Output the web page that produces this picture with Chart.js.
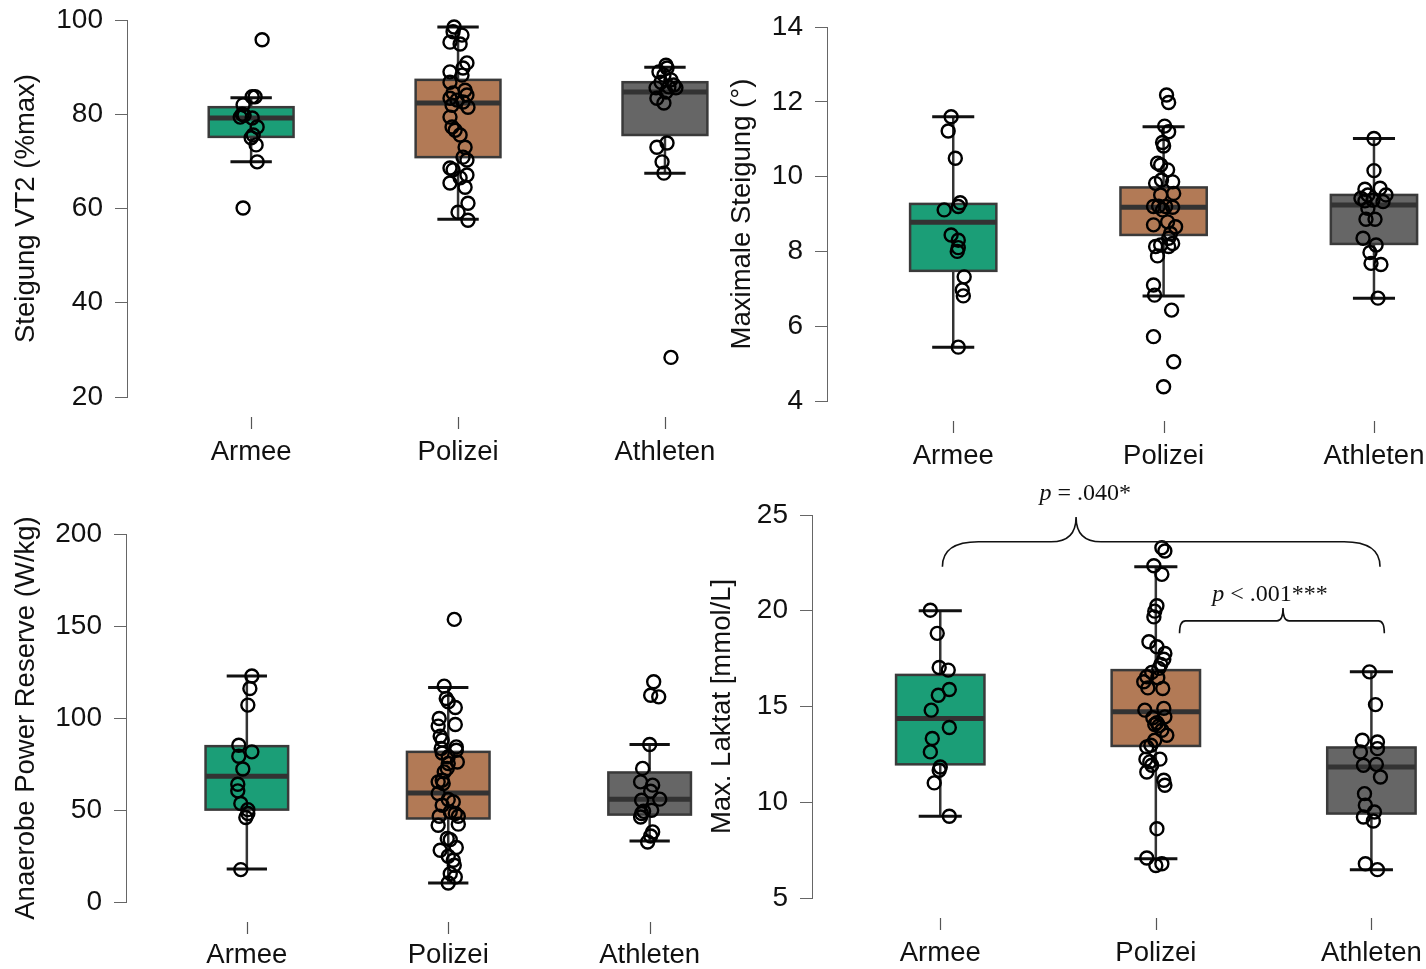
<!DOCTYPE html>
<html>
<head>
<meta charset="utf-8">
<script src="https://cdn.jsdelivr.net/npm/chart.js@4.4.0/dist/chart.umd.min.js"></script>
<style>
  body { margin: 0; background: #fff; width: 1426px; height: 969px; overflow: hidden; position: relative; }
  canvas { position: absolute; }
</style>
</head>
<body>
<canvas id="vt2" width="720" height="480" style="left:0;top:0"></canvas>
<canvas id="steigung" width="706" height="480" style="left:720px;top:0"></canvas>
<canvas id="apr" width="720" height="489" style="left:0;top:480px"></canvas>
<canvas id="laktat" width="726" height="499" style="left:700px;top:470px"></canvas>
<script>
const groups = ['Armee', 'Polizei', 'Athleten'];

// --- Steigung VT2 (%max) ---
const vt2Armee = [95.8, 83.7, 83.7, 82.0, 80.0, 79.4, 79.8, 79.2, 77.3, 75.6, 75.0, 73.5, 69.9, 60.1];
const vt2ArmeeJit = [0.053, 0.005, 0.019, -0.039, -0.043, -0.053, -0.034, 0.005, 0.029, 0.010, 0, 0.024, 0.029, -0.039];
const vt2Polizei = [98.5, 97.5, 96.8, 95.3, 94.9, 90.9, 89.8, 89.0, 88.3, 86.8, 85.1, 84.5, 84.1, 83.4, 83.0, 82.6, 81.9, 81.5, 79.4, 77.3, 76.6, 75.6, 73.0, 70.9, 70.3, 68.6, 68.2, 67.1, 66.5, 65.4, 64.5, 61.1, 59.2, 57.5];
const vt2PolizeiJit = [-0.019, -0.024, 0.019, -0.039, 0.010, 0.043, 0.024, -0.039, 0.019, -0.039, 0.034, -0.024, 0.043, -0.039, -0.005, 0.024, -0.029, 0.048, -0.039, -0.029, -0.014, 0.010, 0.034, 0.024, 0.043, -0.039, -0.024, 0.043, 0.010, -0.039, 0.034, 0.048, 0, 0.048];
const vt2Athleten = [90.4, 89.8, 89.0, 88.3, 87.3, 86.8, 86.2, 85.8, 85.6, 85.6, 84.7, 83.4, 82.4, 73.9, 73.0, 69.9, 67.5, 28.4];
const vt2AthletenJit = [0.005, 0.010, -0.029, -0.005, 0.029, -0.019, 0.043, 0.019, -0.043, 0.053, 0.005, -0.039, -0.005, 0.010, -0.039, -0.014, -0.005, 0.029];
// [lower whisker, Q1, median, Q3, upper whisker]
const vt2Stats = [[69.9, 75.2, 79.2, 81.5, 83.5], [57.7, 70.9, 82.4, 87.3, 98.5], [67.5, 75.6, 84.7, 86.8, 90.0]];

// --- Maximale Steigung (°) ---
const maxArmee = [11.6, 11.22, 10.49, 9.30, 9.20, 9.11, 8.44, 8.30, 8.10, 8.00, 7.32, 6.97, 6.81, 5.44];
const maxArmeeJit = [-0.010, -0.024, 0.010, 0.033, 0.024, -0.043, -0.010, 0.024, 0.024, 0.019, 0.052, 0.043, 0.048, 0.024];
const maxPolizei = [12.18, 11.98, 11.35, 11.20, 10.91, 10.82, 10.36, 10.31, 10.18, 9.91, 9.86, 9.82, 9.55, 9.51, 9.21, 9.20, 9.20, 9.18, 9.11, 8.79, 8.71, 8.66, 8.48, 8.35, 8.21, 8.17, 8.13, 8.13, 7.88, 7.10, 6.83, 6.43, 5.72, 5.05, 4.38];
const maxPolizeiJit = [0.014, 0.024, 0.005, 0.024, -0.005, 0, -0.029, -0.014, 0.019, -0.010, 0.043, -0.038, 0.048, -0.014, -0.024, -0.048, 0.010, 0.043, -0.005, 0.019, -0.048, 0.057, 0.033, 0.024, 0.043, -0.014, -0.038, 0.024, -0.029, -0.048, -0.043, 0.038, -0.048, 0.048, 0];
const maxAthleten = [11.02, 10.16, 9.69, 9.66, 9.51, 9.51, 9.42, 9.37, 9.35, 9.33, 9.15, 8.86, 8.86, 8.35, 8.17, 7.97, 7.68, 7.65, 6.75];
const maxAthletenJit = [0, 0, 0.029, -0.043, 0.057, -0.029, -0.062, -0.005, -0.043, 0.043, -0.029, -0.038, 0.005, -0.052, 0.010, -0.019, -0.014, 0.033, 0.019];
const maxStats = [[5.44, 7.48, 8.78, 9.27, 11.6], [6.81, 8.44, 9.18, 9.71, 11.33], [6.75, 8.20, 9.24, 9.51, 11.02]];

// --- Anaerobe Power Reserve (W/kg) ---
const aprArmee = [122.8, 116, 107, 85.2, 81.6, 79.2, 72.3, 64.0, 60.4, 53.5, 50.2, 48.1, 45.9, 17.6];
const aprArmeeJit = [0.025, 0.015, 0.005, -0.040, 0.025, -0.040, -0.020, -0.045, -0.045, -0.030, 0.005, 0.005, -0.005, -0.030];
const aprPolizei = [153.6, 117.3, 110.6, 108.8, 105.7, 99.7, 96.5, 95.6, 90.1, 88.0, 84.3, 83.4, 82.5, 81.0, 78.9, 76.1, 75.3, 72.6, 70.7, 66.2, 65.3, 64.4, 59.0, 55.7, 54.4, 52.6, 49.0, 48.1, 46.6, 46.6, 42.3, 41.7, 34.5, 33.9, 29.6, 28.1, 24.9, 22.7, 20.0, 15.4, 13.6, 10.3];
const aprPolizeiJit = [0.030, -0.020, -0.010, 0, 0.035, -0.045, 0.035, -0.050, -0.040, -0.030, 0.040, -0.035, 0.040, -0.030, 0, 0.045, 0, -0.005, -0.020, -0.030, -0.050, -0.025, -0.050, 0, 0.025, -0.030, 0.010, 0.035, -0.045, 0.050, 0.050, -0.050, -0.005, 0.010, 0.040, -0.040, 0, 0.025, 0.030, 0.010, 0.035, 0];
const aprAthleten = [119.7, 112.4, 111.5, 85.6, 72.6, 65.3, 63.5, 60.2, 55.9, 55.3, 49.9, 49.3, 48.1, 46.2, 38.1, 35.9, 32.6];
const aprAthletenJit = [0.020, 0.005, 0.045, 0, -0.035, -0.045, 0.015, 0.005, 0.050, -0.040, 0.010, -0.030, -0.040, -0.045, 0.015, 0.005, -0.010];
const aprStats = [[18.0, 50.2, 68.4, 84.7, 122.8], [10.3, 45.4, 59.3, 81.6, 116.6], [33.2, 47.5, 55.9, 70.4, 85.6]];

// --- Max. Laktat [mmol/L] ---
const lakArmee = [20.03, 18.82, 17.04, 16.90, 15.89, 15.59, 14.81, 13.90, 13.33, 12.63, 11.84, 11.67, 11.01, 9.27];
const lakArmeeJit = [-0.046, -0.014, -0.005, 0.037, 0.042, -0.009, -0.042, 0.042, -0.037, -0.046, 0, -0.005, -0.028, 0.042];
const lakPolizei = [23.29, 23.12, 22.35, 21.90, 20.26, 19.98, 19.68, 18.38, 18.12, 17.77, 17.47, 17.19, 16.99, 16.78, 16.55, 16.50, 16.29, 15.97, 15.94, 14.90, 14.81, 14.46, 14.41, 14.16, 14.06, 13.99, 13.76, 13.50, 13.24, 12.98, 12.89, 12.25, 12.25, 12.11, 11.93, 11.58, 11.15, 10.89, 8.62, 7.09, 6.79, 6.70];
const lakPolizeiJit = [0.028, 0.042, -0.009, 0.028, 0.005, -0.005, -0.009, -0.032, 0.005, 0.042, 0.037, 0.023, 0.014, -0.019, -0.042, 0.009, -0.056, -0.037, 0.032, 0.037, -0.051, 0.042, -0.014, 0.005, -0.005, 0.014, 0.028, 0.051, -0.005, -0.023, -0.042, -0.046, 0.019, -0.028, -0.019, -0.042, 0.037, 0.042, 0.005, -0.042, 0.028, 0];
const lakAthleten = [16.81, 15.10, 13.24, 13.15, 12.80, 12.63, 11.98, 11.93, 11.32, 10.45, 9.84, 9.49, 9.23, 9.02, 6.79, 6.48];
const lakAthletenJit = [-0.009, 0.019, -0.042, 0.028, 0.028, -0.051, 0.023, -0.037, 0.042, -0.032, -0.028, 0.014, -0.037, 0.009, -0.028, 0.028];
const lakStats = [[9.27, 11.98, 14.37, 16.65, 20.0], [7.05, 12.94, 14.72, 16.90, 22.30], [6.48, 9.41, 11.84, 12.86, 16.81]];

// significance brackets on the lactate panel
const sigFrom = [1.01, 2.11];
const sigTo = [3.04, 3.06];
const sigPeak = [1.63, 2.59];
const sigLine = [23.6, 19.47];
const sigEnd = [22.3, 18.83];
const sigTip = [24.9, 20.14];
const sigText = [' = .040*', ' < .001***'];
const sigTextX = [1.673, 2.53];
const sigTextY = [26.1, 20.82];

const fillColors = ['#1b9e77', '#b27a56', '#666666'];
const SANS = "'Liberation Sans', Arial, sans-serif";
const BOX_HALF = 0.205;
const CAP_HALF = 0.1;

function boxPlugin(stats) {
  return {
    id: 'boxes',
    beforeDatasetsDraw(chart) {
      const { ctx, scales: { x, y } } = chart;
      ctx.save();
      stats.forEach((s, i) => {
        const cx = x.getPixelForValue(i + 1);
        const half = x.getPixelForValue(i + 1 + BOX_HALF) - cx;
        const cap = x.getPixelForValue(i + 1 + CAP_HALF) - cx;
        const [lo, q1, med, q3, hi] = s.map(v => y.getPixelForValue(v));
        // whisker line
        ctx.strokeStyle = '#333';
        ctx.lineWidth = 2.5;
        ctx.beginPath();
        ctx.moveTo(cx, lo);
        ctx.lineTo(cx, hi);
        ctx.stroke();
        // whisker caps
        ctx.strokeStyle = '#111';
        ctx.lineWidth = 3;
        ctx.beginPath();
        ctx.moveTo(cx - cap, lo); ctx.lineTo(cx + cap, lo);
        ctx.moveTo(cx - cap, hi); ctx.lineTo(cx + cap, hi);
        ctx.stroke();
        // box
        ctx.fillStyle = fillColors[i];
        ctx.fillRect(cx - half, q3, 2 * half, q1 - q3);
        ctx.strokeStyle = '#3a3a3a';
        ctx.lineWidth = 2.5;
        ctx.strokeRect(cx - half, q3, 2 * half, q1 - q3);
        // median
        ctx.strokeStyle = '#333';
        ctx.lineWidth = 5;
        ctx.beginPath();
        ctx.moveTo(cx - half, med);
        ctx.lineTo(cx + half, med);
        ctx.stroke();
      });
      ctx.restore();
    },
    afterDraw(chart) {
      // short category ticks set below the plot region
      const { ctx, scales: { x }, chartArea } = chart;
      ctx.save();
      ctx.strokeStyle = '#555';
      ctx.lineWidth = 1.2;
      groups.forEach((g, i) => {
        const px = Math.round(x.getPixelForValue(i + 1)) + 0.5;
        ctx.beginPath();
        ctx.moveTo(px, chartArea.bottom + 20);
        ctx.lineTo(px, chartArea.bottom + 32);
        ctx.stroke();
      });
      ctx.restore();
    }
  };
}

const bracketPlugin = {
  id: 'brackets',
  afterDraw(chart) {
    const { ctx, scales: { x, y } } = chart;
    const corner = [36, 6];
    const cusp = [25, 6];
    ctx.save();
    ctx.strokeStyle = '#111';
    ctx.lineWidth = 1.6;
    sigFrom.forEach((f, i) => {
      const x1 = x.getPixelForValue(f), x2 = x.getPixelForValue(sigTo[i]);
      const xp = x.getPixelForValue(sigPeak[i]);
      const yh = y.getPixelForValue(sigLine[i]);
      const ye = y.getPixelForValue(sigEnd[i]);
      const yt = y.getPixelForValue(sigTip[i]);
      const r = corner[i], c = cusp[i];
      ctx.beginPath();
      ctx.moveTo(x1, ye);
      ctx.quadraticCurveTo(x1, yh, x1 + r, yh);
      ctx.lineTo(xp - c, yh);
      ctx.quadraticCurveTo(xp, yh, xp, yt);
      ctx.quadraticCurveTo(xp, yh, xp + c, yh);
      ctx.lineTo(x2 - r, yh);
      ctx.quadraticCurveTo(x2, yh, x2, ye);
      ctx.stroke();

      // "p" in italics, the rest upright
      const italic = "italic 24px 'Liberation Serif', 'Times New Roman', serif";
      const upright = "24px 'Liberation Serif', 'Times New Roman', serif";
      ctx.font = italic;
      const wp = ctx.measureText('p').width;
      ctx.font = upright;
      const wr = ctx.measureText(sigText[i]).width;
      const cx = x.getPixelForValue(sigTextX[i]);
      const cy = y.getPixelForValue(sigTextY[i]);
      const left = cx - (wp + wr) / 2;
      ctx.fillStyle = '#111';
      ctx.textBaseline = 'middle';
      ctx.textAlign = 'left';
      ctx.font = italic;
      ctx.fillText('p', left, cy);
      ctx.font = upright;
      ctx.fillText(sigText[i], left + wp, cy);
    });
    ctx.restore();
  }
};

function makePanel(id, cfg) {
  const datasets = cfg.values.map((vals, g) => ({
    data: vals.map((v, k) => ({ x: g + 1 + cfg.jitter[g][k], y: v })),
    pointRadius: 6.5,
    pointHoverRadius: 6.5,
    pointBorderWidth: 2.4,
    pointBorderColor: '#000',
    pointBackgroundColor: 'rgba(0,0,0,0)',
    clip: false
  }));
  const plugins = [boxPlugin(cfg.stats)];
  if (cfg.extra) plugins.push(cfg.extra);

  return new Chart(document.getElementById(id), {
    type: 'scatter',
    data: { datasets },
    options: {
      responsive: false,
      animation: false,
      layout: { padding: { top: cfg.padTop, right: cfg.padRight, left: 0, bottom: 0 } },
      plugins: { legend: { display: false }, tooltip: { enabled: false } },
      scales: {
        x: {
          type: 'linear',
          min: cfg.xMin,
          max: cfg.xMax,
          afterBuildTicks: s => { s.ticks = groups.map((g, i) => ({ value: i + 1 })); },
          afterFit: s => { s.height = cfg.xHeight; s.paddingLeft = 0; s.paddingRight = 0; },
          ticks: {
            callback: (v, i) => groups[i],
            font: { family: SANS, size: 27.5 },
            color: '#111',
            padding: cfg.labelPad,
            maxRotation: 0,
            autoSkip: false
          },
          grid: { display: false, drawTicks: false },
          border: { display: false }
        },
        y: {
          min: cfg.yMin,
          max: cfg.yMax,
          afterFit: s => { s.width = cfg.yWidth; s.paddingTop = 0; s.paddingBottom = 0; },
          ticks: {
            stepSize: cfg.step,
            font: { family: SANS, size: 28 },
            color: '#111',
            padding: 12
          },
          grid: { drawOnChartArea: false, drawTicks: true, tickLength: 12, color: '#666', lineWidth: 1 },
          border: { display: true, color: '#666', width: 1 },
          title: {
            display: true,
            text: cfg.title,
            font: { family: SANS, size: 27.5 },
            color: '#111',
            padding: { top: cfg.titlePad, bottom: 0 }
          }
        }
      }
    },
    plugins
  });
}

makePanel('vt2', {
  title: 'Steigung VT2 (%max)',
  values: [vt2Armee, vt2Polizei, vt2Athleten],
  jitter: [vt2ArmeeJit, vt2PolizeiJit, vt2AthletenJit],
  stats: vt2Stats,
  yMin: 20, yMax: 100, step: 20,
  xMin: 0.4, xMax: 3.223,
  yWidth: 127, xHeight: 83, padTop: 20, padRight: 2, titlePad: 10, labelPad: 39
});

makePanel('steigung', {
  title: 'Maximale Steigung (°)',
  values: [maxArmee, maxPolizei, maxAthleten],
  jitter: [maxArmeeJit, maxPolizeiJit, maxAthletenJit],
  stats: maxStats,
  yMin: 4, yMax: 14, step: 2,
  xMin: 0.4, xMax: 3.205,
  yWidth: 107, xHeight: 79, padTop: 27, padRight: 2, titlePad: 6, labelPad: 39
});

makePanel('apr', {
  title: 'Anaerobe Power Reserve (W/kg)',
  values: [aprArmee, aprPolizei, aprAthleten],
  jitter: [aprArmeeJit, aprPolizeiJit, aprAthletenJit],
  stats: aprStats,
  yMin: 0, yMax: 200, step: 50,
  xMin: 0.4, xMax: 3.25,
  yWidth: 126, xHeight: 67, padTop: 54, padRight: 20, titlePad: 10, labelPad: 37
});

makePanel('laktat', {
  title: 'Max. Laktat [mmol/L]',
  values: [lakArmee, lakPolizei, lakAthleten],
  jitter: [lakArmeeJit, lakPolizeiJit, lakAthletenJit],
  stats: lakStats,
  yMin: 5, yMax: 25, step: 5,
  xMin: 0.405, xMax: 3.212,
  yWidth: 112, xHeight: 71, padTop: 45, padRight: 2, titlePad: 6, labelPad: 39,
  extra: bracketPlugin
});
</script>
</body>
</html>
